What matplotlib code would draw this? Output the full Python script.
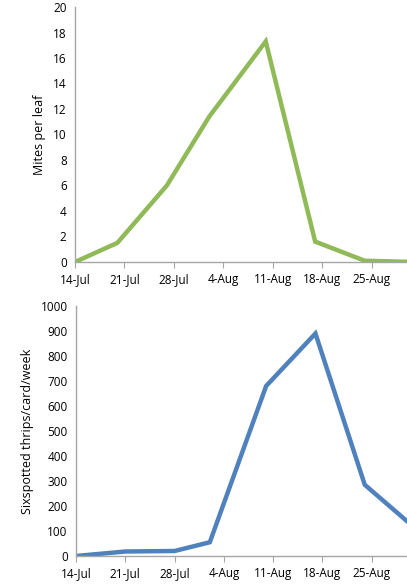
import matplotlib
matplotlib.use('Agg')
import matplotlib.pyplot as plt
import numpy as np
from datetime import date, timedelta

plt.rcParams['font.family'] = ['Open Sans', 'DejaVu Sans']

# sampling dates and counts
mite_dates = [date(2013, 7, 14), date(2013, 7, 20), date(2013, 7, 27), date(2013, 8, 2),
              date(2013, 8, 10), date(2013, 8, 17), date(2013, 8, 24), date(2013, 8, 31)]
mites = [0, 1.5, 6, 11.4, 17.3, 1.6, 0.1, 0]

thrips_dates = [date(2013, 7, 14), date(2013, 7, 21), date(2013, 7, 28), date(2013, 8, 2),
                date(2013, 8, 10), date(2013, 8, 17), date(2013, 8, 24), date(2013, 8, 31)]
thrips = [0, 18, 20, 55, 680, 890, 285, 115]

tick_dates = [date(2013, 7, 14) + timedelta(days=7 * i) for i in range(7)]
tick_labels = [d.strftime('%-d-%b') for d in tick_dates]

green = '#8fba57'
blue = '#4f81bd'
grey = '#a6a6a6'

fig = plt.figure(figsize=(4.07, 5.88), dpi=100)
ax1 = fig.add_axes([75 / 407, 1 - 262 / 588, 1 - 75 / 407, 255 / 588])
ax2 = fig.add_axes([76 / 407, 1 - 556 / 588, 1 - 76 / 407, 250 / 588])


def style(ax, ylim, step, ylabel):
    ax.set_xlim(date(2013, 7, 14), date(2013, 7, 14) + timedelta(days=47.4))
    ax.set_ylim(*ylim)
    ax.set_yticks(np.arange(ylim[0], ylim[1] + 1, step))
    ax.set_xticks(tick_dates)
    ax.set_xticklabels(tick_labels)
    for s in ['top', 'right']:
        ax.spines[s].set_visible(False)
    for s in ['left', 'bottom']:
        ax.spines[s].set_color(grey)
        ax.spines[s].set_linewidth(1)
    ax.tick_params(axis='y', length=0, labelsize=8.5, colors='#000000', pad=6)
    ax.tick_params(axis='x', length=4, color=grey, labelsize=8.5, pad=4)
    ax.set_ylabel(ylabel, fontsize=9, labelpad=5)


ax1.plot(mite_dates, mites, color=green, lw=3.2, solid_joinstyle='miter')
style(ax1, (0, 20), 2, 'Mites per leaf')

ax2.plot(thrips_dates, thrips, color=blue, lw=3.2, solid_joinstyle='miter')
style(ax2, (0, 1000), 100, 'Sixspotted thrips/card/week')

fig.savefig('out.png', dpi=100)
